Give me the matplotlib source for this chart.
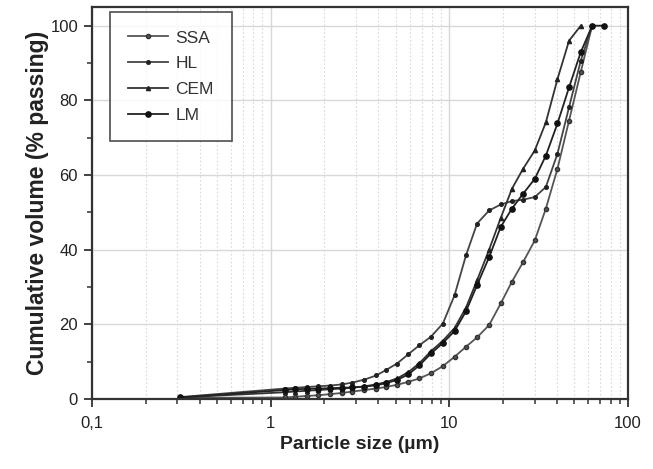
import matplotlib
matplotlib.use("Agg")
import matplotlib.pyplot as plt
from matplotlib.ticker import LogLocator, FixedLocator, FuncFormatter, MultipleLocator

plt.rcParams['font.family'] = ['Liberation Sans', 'DejaVu Sans']

# particle sizes (um)
sizes = [0.31, 1.2, 1.37, 1.59, 1.85, 2.15, 2.5, 2.87, 3.35, 3.9, 4.4, 5.1, 5.9, 6.8,
         7.9, 9.2, 10.7, 12.4, 14.3, 16.7, 19.4, 22.4, 25.9, 30.1, 34.7, 40.3, 46.8,
         54.4, 63.0, 73.4]

ssa = [0.3, 0.4, 0.6, 0.8, 1.0, 1.3, 1.6, 2.0, 2.4, 2.8, 3.2, 3.8, 4.6, 5.5, 6.9, 8.8,
       11.3, 14.0, 16.5, 19.8, 25.6, 31.4, 36.7, 42.5, 51.0, 61.7, 74.6, 87.6, 100.0]
hl = [0.5, 2.8, 3.0, 3.2, 3.4, 3.6, 3.9, 4.4, 5.2, 6.3, 7.7, 9.5, 12.0, 14.4, 16.7, 20.2,
      27.8, 38.5, 47.0, 50.5, 52.1, 53.0, 53.4, 54.1, 56.8, 65.7, 78.2, 90.6, 100.0]
cem = [0.4, 1.8, 2.0, 2.2, 2.4, 2.6, 2.8, 3.0, 3.4, 3.9, 4.5, 5.5, 7.2, 9.6, 12.8, 15.6,
       19.0, 24.5, 31.8, 40.0, 48.5, 56.3, 61.7, 66.6, 74.1, 85.7, 96.0, 100.0]
lm = [0.4, 2.4, 2.6, 2.7, 2.8, 2.9, 3.0, 3.1, 3.3, 3.7, 4.2, 5.1, 6.6, 9.0, 12.2, 15.0,
      18.2, 23.5, 30.5, 38.0, 46.1, 51.0, 55.0, 59.0, 65.2, 73.8, 83.5, 92.9, 100.0, 100.0]

labels = ['SSA', 'HL', 'CEM', 'LM']
series = [ssa, hl, cem, lm]
styles = [dict(marker='o', ms=3.0, mfc='#555555', mec='#333333', color='#555555'),
          dict(marker='o', ms=2.6, mfc='#222222', mec='#222222', color='#444444'),
          dict(marker='^', ms=3.0, mfc='#222222', mec='#222222', color='#333333'),
          dict(marker='o', ms=3.8, mfc='#111111', mec='#111111', color='#222222')]

fig = plt.figure(figsize=(6.53, 4.69), dpi=100)
ax = fig.add_axes([0.1409, 0.1493, 0.8208, 0.8357])

for lab, ys, st in zip(labels, series, styles):
    ax.plot(sizes[:len(ys)], ys, lw=1.3, label=lab, **st)

ax.set_xscale('log')
ax.set_xlim(0.1, 100)
ax.set_ylim(0, 105)
ax.xaxis.set_major_locator(FixedLocator([0.1, 1, 10, 100]))
ax.xaxis.set_minor_locator(LogLocator(base=10, subs=range(2, 10)))
ax.xaxis.set_major_formatter(FuncFormatter(lambda v, p: {0.1: '0,1', 1: '1', 10: '10', 100: '100'}.get(round(v, 3), '')))
ax.xaxis.set_minor_formatter(FuncFormatter(lambda v, p: ''))
ax.yaxis.set_major_locator(MultipleLocator(20))
ax.yaxis.set_minor_locator(MultipleLocator(10))
ax.set_yticks([0, 20, 40, 60, 80, 100])

ax.grid(True, which='major', color='#d8d8d8', lw=1.0, ls='-')
ax.grid(True, which='minor', axis='x', color='#d8d8d8', lw=0.8, ls=(0, (1.5, 2)))
ax.set_axisbelow(True)

for s in ax.spines.values():
    s.set_color('#333333')
    s.set_linewidth(1.6)

ax.tick_params(which='major', direction='out', length=6, width=1.3, color='#333333',
               labelsize=12, labelcolor='#222222')
ax.tick_params(which='minor', direction='out', length=3.5, width=1.1, color='#333333')
ax.tick_params(axis='x', which='major', pad=6)
ax.tick_params(axis='y', which='major', pad=4)

ax.set_xlabel('Particle size (µm)', fontsize=14, fontweight='bold', color='#222222', labelpad=4)
ax.set_ylabel('Cumulative volume (% passing)', fontsize=16.5, fontweight='bold', color='#222222', labelpad=1)

leg = ax.legend(loc='upper left', bbox_to_anchor=(0.034, 0.987), borderaxespad=0,
                fontsize=12.5, frameon=True,
                fancybox=False, edgecolor='#333333', handlelength=2.3, handletextpad=0.4,
                borderpad=1.05, labelspacing=0.62, markerscale=1.0)
leg.get_frame().set_linewidth(1.3)
for t in leg.get_texts():
    t.set_color('#333333')

fig.savefig('out.png', dpi=100)
